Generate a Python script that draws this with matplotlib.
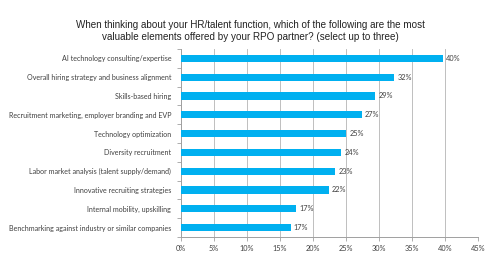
#!/usr/bin/env python
# -*- coding: utf-8 -*-

"""Horizontal bar chart: most valuable RPO partner elements."""

import numpy as np
import matplotlib.pyplot as plt
from matplotlib.ticker import FixedLocator, PercentFormatter

categories = [
    "AI technology consulting/expertise",
    "Overall hiring strategy and business alignment",
    "Skills-based hiring",
    "Recruitment marketing, employer branding and EVP",
    "Technology optimization",
    "Diversity recruitment",
    "Labor market analysis (talent supply/demand)",
    "Innovative recruiting strategies",
    "Internal mobility, upskilling",
    "Benchmarking against industry or similar companies",
]
values = [39.7, 32.3, 29.4, 27.4, 25.0, 24.3, 23.4, 22.4, 17.4, 16.6]
labels = ["40%", "32%", "29%", "27%", "25%", "24%", "23%", "22%", "17%", "17%"]
xticks = [0, 5, 10, 15, 20, 25, 30, 35, 40, 45]

title = ("When thinking about your HR/talent function, which of the following are the most\n"
         "valuable elements offered by your RPO partner? (select up to three)")


def main():
    fig = plt.figure(figsize=(5, 2.78), dpi=100)
    ax = fig.add_axes([0.362, 0.1475, 0.594, 0.6765])

    y = np.arange(len(categories))[::-1]
    ax.barh(y, values, height=0.38, color="#00B0F0", zorder=3)

    for yi, v, lab in zip(y, values, labels):
        ax.text(v + 0.5, yi, lab, va="center", ha="left", fontsize=5.3,
                family="Lato", color="#404040")

    ax.set_xlim(0, 45)
    ax.set_ylim(-0.5, len(categories) - 0.5)
    ax.set_xticks(xticks)
    ax.xaxis.set_major_formatter(PercentFormatter(decimals=0))
    ax.set_yticks(y)
    ax.set_yticklabels(categories)
    ax.yaxis.set_minor_locator(FixedLocator(np.arange(-0.5, len(categories), 1)))

    ax.tick_params(axis="y", which="major", length=0, pad=7)
    ax.tick_params(axis="y", which="minor", length=3, color="#A0A0A0", width=0.6)
    ax.tick_params(axis="x", length=3, color="#A0A0A0", width=0.6, pad=3)
    for lab in ax.get_xticklabels():
        lab.set_fontsize(5.3)
        lab.set_family("Lato")
        lab.set_color("#404040")
    for lab in ax.get_yticklabels():
        lab.set_fontsize(5.15)
        lab.set_family("Lato")
        lab.set_color("#404040")

    ax.grid(axis="x", color="#BFBFBF", linewidth=0.7, zorder=0)
    for side in ["top", "right"]:
        ax.spines[side].set_visible(False)
    for side in ["left", "bottom"]:
        ax.spines[side].set_color("#A0A0A0")
        ax.spines[side].set_linewidth(0.7)

    fig.text(0.5, 0.848, title, ha="center", va="bottom", fontsize=7.15,
             family="Liberation Sans", color="#222222", linespacing=1.25)

    fig.savefig("out.png", dpi=100)
    plt.close()


if __name__ == "__main__":
    main()
